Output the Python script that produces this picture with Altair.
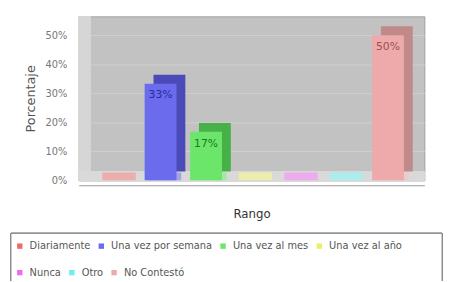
import altair as alt
import pandas as pd

categories = ["Diariamente", "Una vez por semana", "Una vez al mes", "Una vez al año",
              "Nunca", "Otro", "No Contestó"]
values = [0.0, 0.333, 0.167, 0.0, 0.0, 0.0, 0.50]
front_colors = ["#ee6b6b", "#6b6bee", "#6be66b", "#eeee6b", "#ee6bee", "#6beeee", "#eeaaaa"]
side_colors = ["#b85050", "#4a4ab8", "#48b048", "#bcbc4c", "#b84cb8", "#4cbcbc", "#c08a8a"]
top_colors = ["#f49a9a", "#8c8cf4", "#8cf08c", "#f4f49a", "#f49af4", "#9af4f4", "#f4c4c4"]
label_colors = ["#8a2a2a", "#2a2aa0", "#1e7a1e", "#7a7a1e", "#7a1e7a", "#1e7a7a", "#9a5050"]

df = pd.DataFrame({"Rango": categories, "Porcentaje": values})

W, H = 352, 167
FONT = "DejaVu Sans"

x_enc = alt.X("Rango:N", sort=categories,
              scale=alt.Scale(paddingInner=0.3, paddingOuter=0.45),
              axis=alt.Axis(title="Rango", labels=False, ticks=False, domain=True,
                            domainColor="#999999", offset=5, titlePadding=24,
                            titleFont=FONT, titleFontSize=12, titleFontWeight="normal",
                            titleColor="#333333", grid=False))
y_scale = alt.Scale(domain=[0, 0.565], nice=False)
y_axis = alt.Axis(title="Porcentaje", format=".0%", values=[0, 0.1, 0.2, 0.3, 0.4, 0.5],
                  ticks=False, domain=False, labelPadding=12, labelOverlap=False,
                  labelFont=FONT, labelFontSize=10, labelColor="#777777",
                  titleFont=FONT, titleFontSize=13, titleFontWeight="normal",
                  titleColor="#555555", titlePadding=8,
                  gridColor="#d0d0d0", gridWidth=1)
y_enc = alt.Y("Porcentaje:Q", scale=y_scale, axis=y_axis)


def legend_for(ly):
    return alt.Legend(title=None, orient="none", legendX=-65, legendY=ly,
                      direction="horizontal", symbolType="square", symbolSize=30,
                      symbolStrokeWidth=0, labelFont=FONT, labelFontSize=10,
                      labelColor="#555555", labelOffset=5, columnPadding=6, padding=0)


base = alt.Chart(df)

left_wall = base.mark_rect(color="#d6d6d6").encode(
    x=alt.value(0), x2=alt.value(12), y=alt.value(0), y2=alt.value(H))
floor = base.mark_rect(color="#d9d9d9").encode(
    x=alt.value(0), x2=alt.value(W), y=alt.value(H - 9), y2=alt.value(H))
legend_frame = base.mark_rect(fill="#ffffff", stroke="#888888", strokeWidth=1).encode(
    x=alt.value(-69), x2=alt.value(370), y=alt.value(221), y2=alt.value(320))

slab = base.mark_tick(thickness=8, size=34, yOffset=-4, xOffset=4).encode(
    x=x_enc,
    y=y_enc,
    color=alt.Color("Rango:N", sort=categories,
                    scale=alt.Scale(domain=categories, range=top_colors), legend=None),
).transform_calculate(Porcentaje="0")

side = base.mark_bar(xOffset=9, yOffset=-9).encode(
    x=x_enc,
    y=y_enc,
    color=alt.Color("Rango:N", sort=categories,
                    scale=alt.Scale(domain=categories, range=side_colors), legend=None),
).transform_filter("datum.Porcentaje > 0")

front_a = base.mark_bar().encode(
    x=x_enc,
    y=y_enc,
    color=alt.Color("Rango:N", sort=categories[:4],
                    scale=alt.Scale(domain=categories[:4], range=front_colors[:4]),
                    legend=legend_for(229)),
).transform_filter(alt.FieldOneOfPredicate(field="Rango", oneOf=categories[:4]))

front_b = base.mark_bar().encode(
    x=x_enc,
    y=y_enc,
    color=alt.Color("Rango:N", sort=categories[4:],
                    scale=alt.Scale(domain=categories[4:], range=front_colors[4:]),
                    legend=legend_for(256)),
).transform_filter(alt.FieldOneOfPredicate(field="Rango", oneOf=categories[4:]))

text = base.mark_text(baseline="top", dy=6, font=FONT, fontSize=11).encode(
    x=x_enc,
    y=y_enc,
    text=alt.Text("Porcentaje:Q", format=".0%"),
    color=alt.Color("Rango:N", sort=categories,
                    scale=alt.Scale(domain=categories, range=label_colors), legend=None),
).transform_filter("datum.Porcentaje > 0")

chart = alt.layer(legend_frame, left_wall, floor, slab, side, front_a, front_b, text).resolve_scale(
    color="independent"
).properties(
    width=W, height=H,
    autosize=alt.AutoSizeParams(type="none"),
    padding={"left": 72, "top": 6, "right": 21, "bottom": 100},
).configure_view(fill="#c2c2c2", stroke="#a0a0a0")

chart.save("out.html", embed_options={"renderer": "svg", "actions": False})
